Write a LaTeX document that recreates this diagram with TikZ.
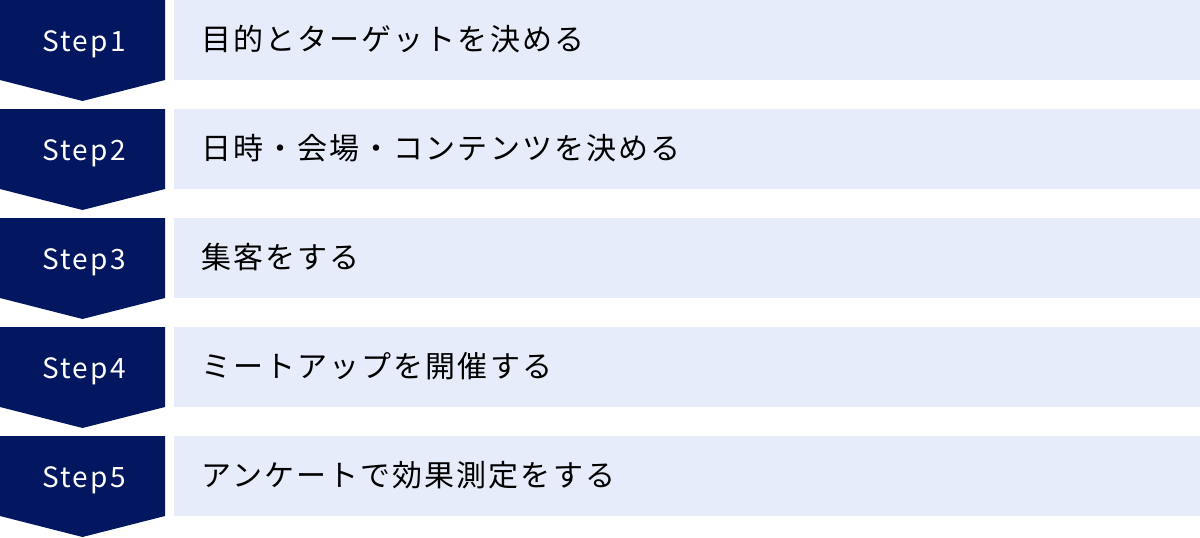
\documentclass[tikz,border=0pt]{standalone}
\usepackage{fontspec}
\setmainfont{Noto Sans CJK JP}[LetterSpace=7]
\newfontfamily\stepfont{Noto Sans CJK JP}[LetterSpace=8]
\definecolor{navy}{HTML}{031660}
\definecolor{pale}{HTML}{E6ECF9}
\begin{document}
\begin{tikzpicture}[x=1pt,y=-1pt,
  stepshape/.style={fill=navy,draw=none},
  bar/.style={fill=pale,draw=none},
  steplabel/.style={text=white,font=\stepfont\fontsize{28}{30}\selectfont,inner sep=0pt,anchor=base},
  barlabel/.style={text=black,font=\fontsize{30}{32}\selectfont,inner sep=0pt,anchor=base west}]
\useasboundingbox (0,0) rectangle (1200,538);
\foreach \i/\t in {0/目的とターゲットを決める,1/日時・会場・コンテンツを決める,2/集客をする,3/ミートアップを開催する,4/アンケートで効果測定をする}{
  \pgfmathsetmacro{\y}{109*\i}
  \pgfmathtruncatemacro{\n}{\i+1}
  \fill[stepshape] (0,\y) -- (165,\y) -- (165,\y+80) -- (82.5,\y+101) -- (0,\y+80) -- cycle;
  \fill[bar] (174,\y) rectangle (1200,\y+80);
  \node[steplabel] (s\n) at (84,\y+51.5) {Step\n};
  \node[barlabel] (t\n) at (201,\y+50.5) {\t};
}
\end{tikzpicture}
\end{document}
